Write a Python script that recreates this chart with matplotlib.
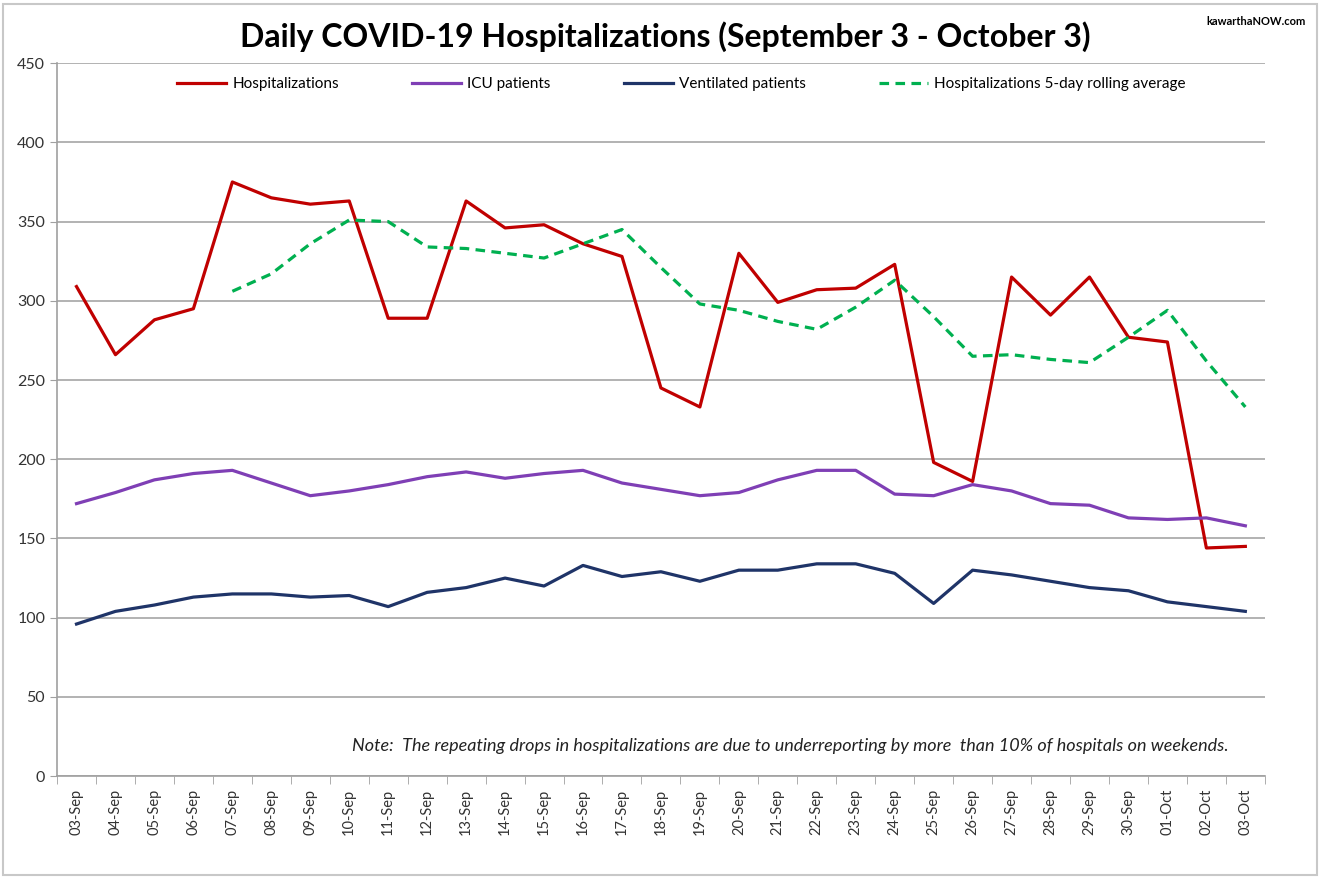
import matplotlib.pyplot as plt
from matplotlib.patches import Rectangle

plt.rcParams['font.family'] = ['Lato', 'DejaVu Sans']

dates = ['03-Sep', '04-Sep', '05-Sep', '06-Sep', '07-Sep', '08-Sep', '09-Sep', '10-Sep',
         '11-Sep', '12-Sep', '13-Sep', '14-Sep', '15-Sep', '16-Sep', '17-Sep', '18-Sep',
         '19-Sep', '20-Sep', '21-Sep', '22-Sep', '23-Sep', '24-Sep', '25-Sep', '26-Sep',
         '27-Sep', '28-Sep', '29-Sep', '30-Sep', '01-Oct', '02-Oct', '03-Oct']

hosp = [309, 266, 288, 295, 375, 365, 361, 363, 289, 289, 363, 346, 348, 336, 328, 245,
        233, 330, 299, 307, 308, 323, 198, 186, 315, 291, 315, 277, 274, 144, 145]
icu = [172, 179, 187, 191, 193, 185, 177, 180, 184, 189, 192, 188, 191, 193, 185, 181,
       177, 179, 187, 193, 193, 178, 177, 184, 180, 172, 171, 163, 162, 163, 158]
vent = [96, 104, 108, 113, 115, 115, 113, 114, 107, 116, 119, 125, 120, 133, 126, 129,
        123, 130, 130, 134, 134, 128, 109, 130, 127, 123, 119, 117, 110, 107, 104]
# rolling average starts on 07-Sep
avg_dates = dates[4:]
avg = [306, 317, 336, 351, 350, 334, 333, 330, 327, 336, 345, 321, 298, 294, 287, 282,
       296, 313, 290, 265, 266, 263, 261, 277, 294, 262, 233]

fig = plt.figure(figsize=(13.2, 8.77), dpi=100)
ax = fig.add_axes([0.0432, 0.115, 0.915, 0.813])

x = list(range(len(dates)))
xa = [dates.index(d) for d in avg_dates]

ax.plot(x, hosp, color='#C00000', lw=2.3, label='Hospitalizations')
ax.plot(x, icu, color='#7F3FB5', lw=2.3, label='ICU patients')
ax.plot(x, vent, color='#1F3468', lw=2.3, label='Ventilated patients')
ax.plot(xa, avg, color='#00B050', lw=2.3, ls=(0, (3, 2)),
        label='Hospitalizations 5-day rolling average')

ax.set_xlim(-0.5, len(dates) - 0.5)
ax.set_ylim(0, 450)
ax.set_yticks(range(0, 451, 50))
ax.set_xticks(x)
ax.set_xticklabels(dates, rotation=90, fontsize=10.5, color='#333333')
ax.set_xticks([i - 0.5 for i in range(len(dates) + 1)], minor=True)
ax.tick_params(axis='x', which='major', length=0, pad=9)
ax.tick_params(axis='x', which='minor', length=6, color='#a0a0a0')
ax.tick_params(axis='y', length=5, color='#a0a0a0', labelsize=11.5, labelcolor='#333333')

ax.grid(axis='y', color='#a6a6a6', lw=1.2)
ax.set_axisbelow(True)
for s in ['top', 'right']:
    ax.spines[s].set_visible(False)
for s in ['left', 'bottom']:
    ax.spines[s].set_color('#a0a0a0')
    ax.spines[s].set_linewidth(1.2)

ax.legend(loc='upper center', bbox_to_anchor=(0.517, 1.0), ncol=4, frameon=False,
          fontsize=11, handlelength=3.2, columnspacing=4.8, handletextpad=0.4)

fig.text(0.504, 0.958, 'Daily COVID-19 Hospitalizations (September 3 - October 3)',
         ha='center', va='center', fontsize=23, fontweight='bold')
fig.text(0.989, 0.975, 'kawarthaNOW.com', ha='right', va='center', fontsize=8,
         fontweight='bold')
ax.text(0.97, 0.042, 'Note:  The repeating drops in hospitalizations are due to underreporting '
        'by more  than 10% of hospitals on weekends.', transform=ax.transAxes,
        ha='right', va='center', fontsize=13, style='italic', color='#222222')

fig.patches.append(Rectangle((0.002, 0.002), 0.996, 0.993, transform=fig.transFigure,
                             fill=False, edgecolor='#c8c8c8', lw=1.5))

fig.savefig('out.png', dpi=100)
